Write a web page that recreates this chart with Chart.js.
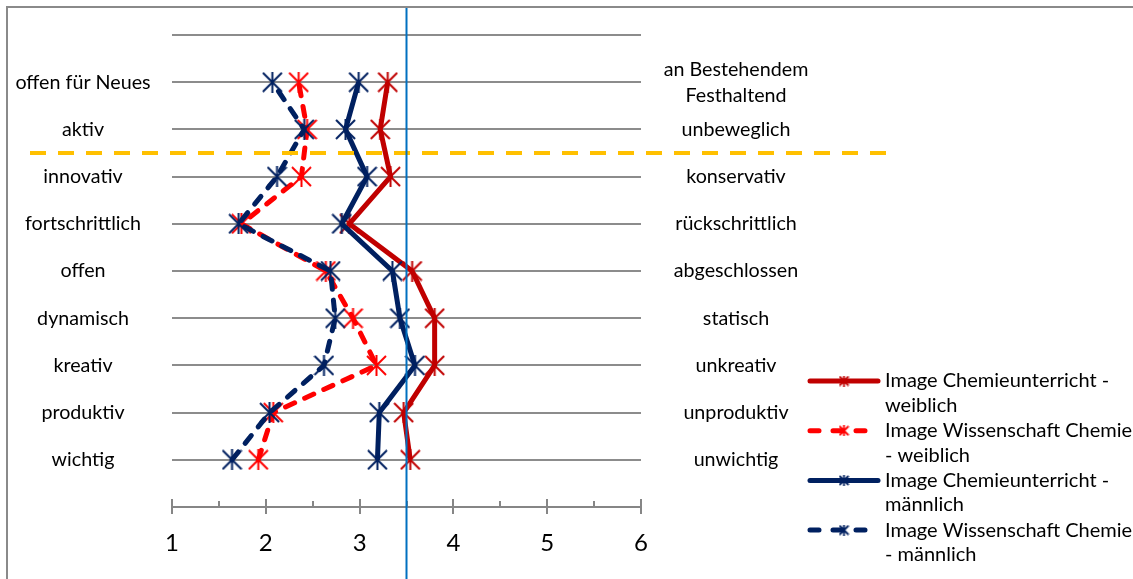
<!DOCTYPE html>
<html>
<head>
<meta charset="utf-8">
<script src="https://cdn.jsdelivr.net/npm/chart.js@4/dist/chart.umd.min.js"></script>
<style>
html,body{margin:0;padding:0;background:#fff;}
#wrap{width:1133px;height:579px;position:relative;}
</style>
</head>
<body>
<div id="wrap"><canvas id="c" width="1133" height="579"></canvas></div>
<script>
// ---- data (y = 1 bottom ... 9 top) ----
const leftLabels = ['wichtig','produktiv','kreativ','dynamisch','offen','fortschrittlich','innovativ','aktiv','offen für Neues'];
const rightLabels = ['unwichtig','unproduktiv','unkreativ','statisch','abgeschlossen','rückschrittlich','konservativ','unbeweglich',['an Bestehendem','Festhaltend']];
const cuWeiblich = [3.54, 3.47, 3.80, 3.80, 3.56, 2.89, 3.33, 3.22, 3.30];
const wsWeiblich = [1.92, 2.08, 3.18, 2.93, 2.64, 1.74, 2.38, 2.44, 2.35];
const cuMaennlich = [3.19, 3.21, 3.59, 3.43, 3.35, 2.81, 3.08, 2.85, 2.99];
const wsMaennlich = [1.64, 2.04, 2.62, 2.74, 2.69, 1.71, 2.12, 2.41, 2.07];
const seriesNames = [
  ['Image Chemieunterricht -','weiblich'],
  ['Image Wissenschaft Chemie','- weiblich'],
  ['Image Chemieunterricht -','männlich'],
  ['Image Wissenschaft Chemie','- männlich']
];
const xTicks = [1,2,3,4,5,6];
const midValue = 3.5;
const separatorY = 7.5;

// ---- styling ----
const FONT = 'Lato, Carlito, Calibri, sans-serif';
const colors = ['#C00000','#FF0000','#002060','#002060'];
const dashed = [false,true,false,true];

function starMarker(color, size, lw){
  const c = document.createElement('canvas');
  c.width = size; c.height = size;
  const g = c.getContext('2d');
  g.strokeStyle = color; g.lineWidth = lw; g.lineCap = 'butt';
  const m = 1, s = size - 1;
  g.beginPath();
  g.moveTo(m, m); g.lineTo(s, s);
  g.moveTo(s, m); g.lineTo(m, s);
  g.moveTo(size/2, 0); g.lineTo(size/2, size);
  g.stroke();
  return c;
}

const allSeries = [cuWeiblich, wsWeiblich, cuMaennlich, wsMaennlich];
const datasets = allSeries.map((vals, i) => ({
  label: seriesNames[i].join(' '),
  data: vals.map((v, k) => ({x: v, y: k + 1})),
  borderColor: colors[i],
  backgroundColor: colors[i],
  borderWidth: 5,
  borderDash: dashed[i] ? [10, 11] : [],
  borderCapStyle: dashed[i] ? 'round' : 'butt',
  borderJoinStyle: 'round',
  pointStyle: starMarker(colors[i], 21, 2),
  pointRadius: 10,
  pointHoverRadius: 10,
  showLine: true,
  tension: 0,
  order: 4 - i
}));

const decor = {
  id: 'decor',
  beforeDraw(chart){
    const ctx = chart.ctx;
    ctx.save();
    ctx.fillStyle = '#fff';
    ctx.fillRect(0,0,chart.width,chart.height);
    // frame
    ctx.strokeStyle = '#8a8a8a';
    ctx.lineWidth = 2;
    ctx.beginPath();
    ctx.moveTo(7, 579); ctx.lineTo(7, 7); ctx.lineTo(1133, 7);
    ctx.stroke();
    ctx.restore();
  },
  afterDraw(chart){
    const ctx = chart.ctx;
    const xs = chart.scales.x, ys = chart.scales.y;
    ctx.save();
    // x axis ticks
    const axisY = ys.getPixelForValue(0);
    ctx.strokeStyle = '#868686';
    ctx.lineWidth = 2;
    ctx.beginPath();
    for (let v = 1; v <= 6.001; v += 0.5) {
      const px = Math.round(xs.getPixelForValue(v));
      if (Number.isInteger(v)) { ctx.moveTo(px, axisY - 8); ctx.lineTo(px, axisY + 7); }
      else { ctx.moveTo(px, axisY - 6); ctx.lineTo(px, axisY); }
    }
    ctx.stroke();
    // category labels
    ctx.fillStyle = '#000';
    ctx.font = '19.7px ' + FONT;
    ctx.textAlign = 'center';
    ctx.textBaseline = 'middle';
    leftLabels.forEach((t, k) => {
      ctx.fillText(t, 83, ys.getPixelForValue(k + 1));
    });
    rightLabels.forEach((t, k) => {
      const py = ys.getPixelForValue(k + 1);
      if (Array.isArray(t)) {
        const lh = 26;
        t.forEach((ln, j) => ctx.fillText(ln, 736, py - lh*(t.length-1)/2 + j*lh));
      } else ctx.fillText(t, 736, py);
    });
    // separator dashed line
    const sy = ys.getPixelForValue(separatorY);
    ctx.strokeStyle = '#FFC000';
    ctx.lineWidth = 4;
    ctx.setLineDash([16, 12]);
    ctx.beginPath();
    ctx.moveTo(30, sy); ctx.lineTo(886, sy);
    ctx.stroke();
    ctx.setLineDash([]);
    // midpoint vertical line
    const mx = xs.getPixelForValue(midValue);
    ctx.strokeStyle = '#0070C0';
    ctx.lineWidth = 2;
    ctx.beginPath();
    ctx.moveTo(mx, 8); ctx.lineTo(mx, 579);
    ctx.stroke();
    // legend
    ctx.textAlign = 'left';
    ctx.font = '20px ' + FONT;
    const y0 = 381, step = 49.7, lh = 24.6;
    seriesNames.forEach((lines, i) => {
      const ly = y0 + i*step;
      ctx.strokeStyle = colors[i];
      ctx.lineWidth = 5;
      ctx.lineCap = 'round';
      if (dashed[i]) ctx.setLineDash([9, 14]); else ctx.setLineDash([]);
      ctx.beginPath();
      ctx.moveTo(810, ly); ctx.lineTo(878, ly);
      ctx.stroke();
      ctx.setLineDash([]);
      ctx.drawImage(starMarker(colors[i], 11, 1.8), 844 - 5.5, ly - 5.5);
      ctx.fillStyle = '#000';
      lines.forEach((ln, j) => ctx.fillText(ln, 885, ly + j*lh));
    });
    ctx.restore();
  }
};

new Chart(document.getElementById('c'), {
  type: 'scatter',
  data: { datasets },
  options: {
    responsive: false,
    animation: false,
    layout: { padding: { left: 172, right: 492, top: 35, bottom: 0 } },
    plugins: { legend: { display: false }, tooltip: { enabled: false } },
    scales: {
      x: {
        type: 'linear', min: 1, max: 6,
        afterBuildTicks: s => { s.ticks = xTicks.map(v => ({value: v})); },
        afterFit: s => { s.height = 72; },
        grid: { display: false, drawTicks: false },
        border: { display: true, color: '#868686', width: 2 },
        ticks: { color: '#000', font: { family: FONT, size: 24 }, padding: 22, maxRotation: 0 }
      },
      y: {
        type: 'linear', min: 0, max: 10,
        afterBuildTicks: s => { s.ticks = [0,1,2,3,4,5,6,7,8,9,10].map(v => ({value: v})); },
        afterFit: s => { s.width = 0; },
        ticks: { display: false },
        border: { display: false },
        grid: {
          drawTicks: false,
          color: c => c.tick.value === 0 ? 'rgba(0,0,0,0)' : '#8c8c8c',
          lineWidth: 2
        }
      }
    }
  },
  plugins: [decor]
});
</script>
</body>
</html>
